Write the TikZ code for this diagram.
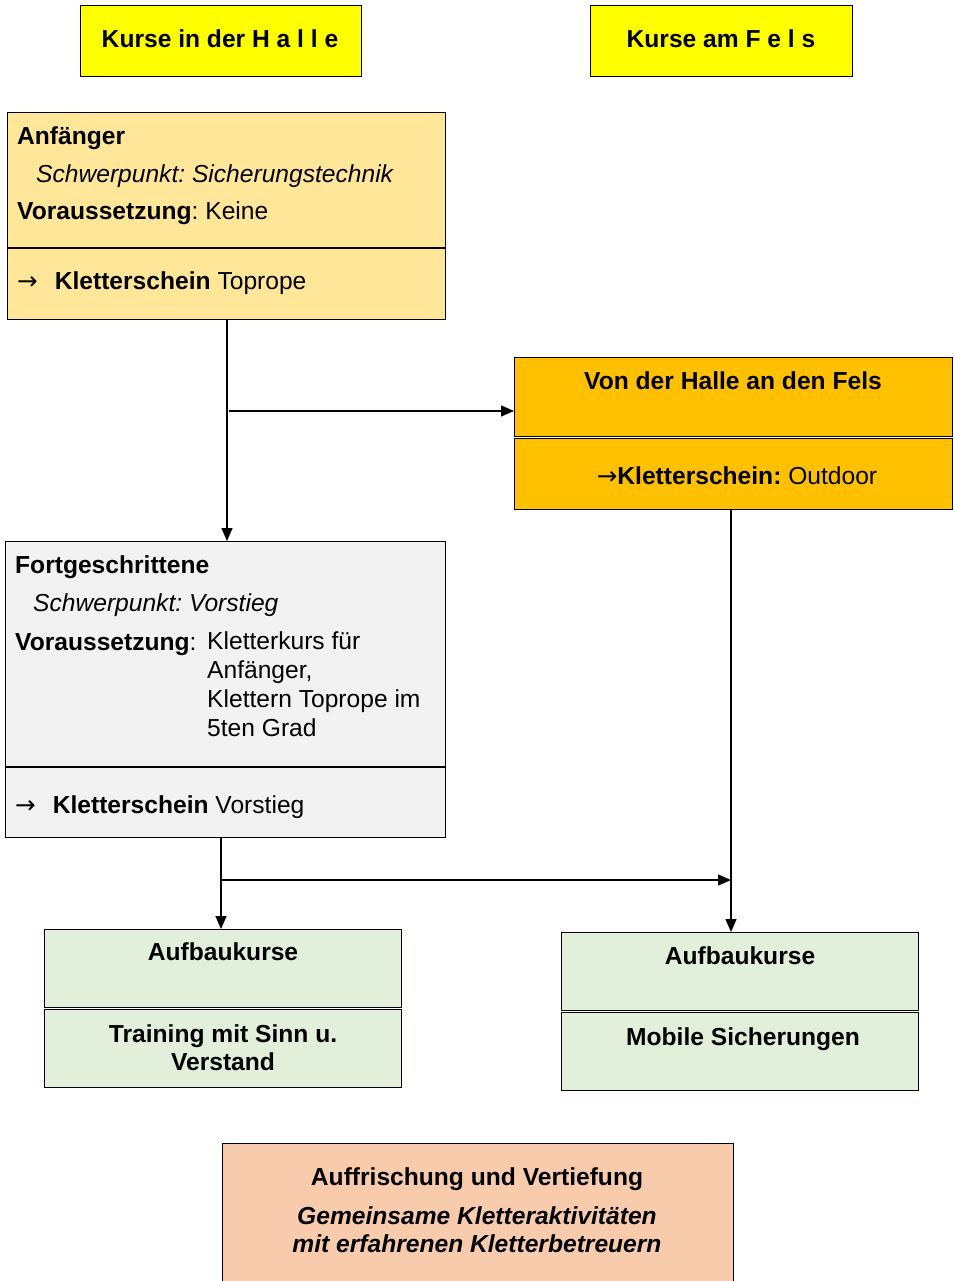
\documentclass[tikz,border=0pt]{standalone}
\usepackage{fontspec}
\setmainfont{Liberation Sans}
\newfontfamily\arrfont{DejaVu Sans}
\usetikzlibrary{arrows.meta}
\frenchspacing
\definecolor{cyel}{HTML}{FFFF00}
\definecolor{canf}{HTML}{FFE699}
\definecolor{chal}{HTML}{FFC000}
\definecolor{cfor}{HTML}{F2F2F2}
\definecolor{cgrn}{HTML}{E2EFDA}
\definecolor{cbot}{HTML}{F8CBAD}
\newcommand{\rarr}{{\arrfont\mdseries\upshape →}}
\begin{document}
\begin{tikzpicture}[x=1pt,y=-1pt,
  box/.style={draw=black,line width=1.4pt,anchor=north west,inner sep=0pt},
  txt/.style={anchor=base west,inner sep=0pt,font=\fontsize{24.6}{29}\selectfont},
  ctxt/.style={anchor=base,inner sep=0pt,font=\fontsize{24.6}{28.5}\selectfont\bfseries},
  conn/.style={line width=1.4pt,-{Triangle[length=13pt,width=11pt]}}]
\useasboundingbox (0,0) rectangle (953,1281);
% top boxes
\node[box,fill=cyel,minimum width=281pt,minimum height=71pt] (th) at (80,5) {};
\node[box,fill=cyel,minimum width=262pt,minimum height=71pt] (tf) at (590,5) {};
\node[ctxt] (thl) at (220,48) {Kurse in der H a l l e};
\node[ctxt] (tfl) at (721,48) {Kurse am F e l s};
% Anfaenger
\node[box,fill=canf,minimum width=438pt,minimum height=135pt] (a1) at (7,112) {};
\node[box,fill=canf,minimum width=438pt,minimum height=71pt] (a2) at (7,248) {};
\node[txt] (a1t) at (17,145) {\bfseries Anfänger};
\node[txt] (a1s) at (36,183) {\itshape Schwerpunkt: Sicherungstechnik};
\node[txt] (a1v) at (17,220) {\textbf{Voraussetzung}: Keine};
\node[txt] (a2t) at (17,289) {\rarr\hspace{17pt}\textbf{Kletterschein} Toprope};
% Von der Halle
\node[box,fill=chal,minimum width=438pt,minimum height=79pt] (h1) at (514,357) {};
\node[box,fill=chal,minimum width=438pt,minimum height=71pt] (h2) at (514,438) {};
\node[ctxt] (h1t) at (733,389) {Von der Halle an den Fels};
\node[ctxt] (h2t) at (737,484) {\rarr Kletterschein: \mdseries Outdoor};
% Fortgeschrittene
\node[box,fill=cfor,minimum width=440pt,minimum height=225pt] (f1) at (5,541) {};
\node[box,fill=cfor,minimum width=440pt,minimum height=70pt] (f2) at (5,767) {};
\node[txt] (f1t) at (15,573) {\bfseries Fortgeschrittene};
\node[txt] (f1s) at (33,611) {\itshape Schwerpunkt: Vorstieg};
\node[txt] (f1v) at (15,650) {\textbf{Voraussetzung}:};
\node[txt,align=left,anchor=north west] (f1r) at (207,631) {Kletterkurs für\\Anfänger,\\Klettern Toprope im\\5ten Grad};
\node[txt] (f2t) at (15,813) {\rarr\hspace{17pt}\textbf{Kletterschein} Vorstieg};
% green boxes
\node[box,fill=cgrn,minimum width=357pt,minimum height=78pt] (gl1) at (44,929) {};
\node[box,fill=cgrn,minimum width=357pt,minimum height=78pt] (gl2) at (44,1009) {};
\node[ctxt] (gl1t) at (223,960) {Aufbaukurse};
\node[ctxt,align=center,anchor=north] (gl2t) at (223,1024) {Training mit Sinn u.\\Verstand};
\node[box,fill=cgrn,minimum width=357pt,minimum height=78pt] (gr1) at (561,932) {};
\node[box,fill=cgrn,minimum width=357pt,minimum height=78pt] (gr2) at (561,1012) {};
\node[ctxt] (gr1t) at (740,964) {Aufbaukurse};
\node[ctxt] (gr2t) at (743,1045) {Mobile Sicherungen};
% bottom box
\node[box,fill=cbot,minimum width=511pt,minimum height=150pt] (b) at (222,1143) {};
\node[ctxt] (bt) at (477,1185) {Auffrischung und Vertiefung};
\node[ctxt,align=center,anchor=north,font=\fontsize{24.6}{28}\selectfont\bfseries\itshape] (bs) at (477,1206) {Gemeinsame Kletteraktivitäten\\mit erfahrenen Kletterbetreuern};
% connectors
\coordinate (ax) at (227,319);
\coordinate (aj) at (229,411);
\coordinate (hx) at (731,509);
\coordinate (fx) at (221,838);
\coordinate (fj) at (221,880);
\draw[conn] (ax) -- (ax |- f1.north);
\draw[conn] (aj) -- (aj -| h1.west);
\draw[conn] (hx) -- (hx |- gr1.north);
\draw[conn] (fx) -- (fx |- gl1.north);
\draw[conn] (fj) -- (fj -| hx);
\end{tikzpicture}
\end{document}
